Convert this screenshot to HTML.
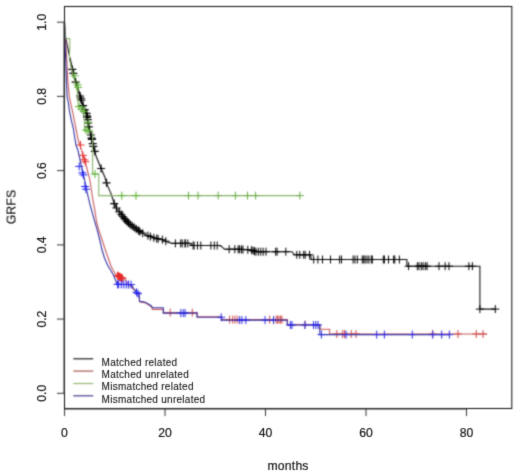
<!DOCTYPE html>
<html><head><meta charset="utf-8"><title>GRFS</title>
<style>html,body{margin:0;padding:0;background:#fff;overflow:hidden;}svg{display:block;}</style>
</head><body>
<svg width="520" height="472" viewBox="0 0 520 472"><defs><filter id="bl" x="0" y="0" width="520" height="472" filterUnits="userSpaceOnUse" color-interpolation-filters="sRGB"><feConvolveMatrix order="5" kernelMatrix="0.00003 0.00101 0.00331 0.00101 0.00003 0.00101 0.03529 0.11525 0.03529 0.00101 0.00331 0.11525 0.37636 0.11525 0.00331 0.00101 0.03529 0.11525 0.03529 0.00101 0.00003 0.00101 0.00331 0.00101 0.00003" edgeMode="duplicate"/></filter><filter id="bt" x="0" y="0" width="520" height="472" filterUnits="userSpaceOnUse" color-interpolation-filters="sRGB"><feConvolveMatrix order="5" kernelMatrix="0.00000 0.00003 0.00021 0.00003 0.00000 0.00003 0.01133 0.08373 0.01133 0.00003 0.00021 0.08373 0.61869 0.08373 0.00021 0.00003 0.01133 0.08373 0.01133 0.00003 0.00000 0.00003 0.00021 0.00003 0.00000" edgeMode="none"/></filter></defs><rect width="520" height="472" fill="#fff"/><g filter="url(#bl)"><rect width="520" height="472" fill="#fff"/><polyline points="64.5,22.2 64.8,30.0 65.6,37.0 67.6,47.0 69.8,58.0 72.1,68.5 74.0,76.0 75.9,83.3 77.6,88.0 79.1,92.8 82.0,102.6 84.2,108.5 86.6,113.5 87.8,120.0 88.7,126.2 91.3,136.7 93.5,147.3 94.5,150.0 96.1,156.3 100.9,168.0 104.6,176.5 107.2,184.9 110.9,193.4 112.1,197.0 114.2,203.6 117.0,209.0 120.5,213.5 124.8,219.2 129.5,224.0 135.3,228.3 140.8,232.2 147.5,235.5 155.2,238.3 162.9,239.8 167.7,242.2 172.0,243.4 190.0,243.4 192.7,245.5 219.5,245.5 221.5,246.4 224.4,249.1 240.0,249.3 251.2,250.0 256.0,251.7 292.1,251.7 294.3,254.8 310.6,254.8 311.5,259.5 406.9,259.5 406.9,266.2 479.9,266.2 479.9,309.1 495.3,309.1" fill="none" stroke="#141414" stroke-width="1.1"/><polyline points="69.8,58.0 72.1,68.5 74.0,76.0 75.9,83.3 77.6,88.0 79.1,92.8 82.0,102.6 84.2,108.5 86.6,113.5 87.8,120.0 88.7,126.2 91.3,136.7 93.5,147.3 94.5,150.0" fill="none" stroke="#141414" stroke-width="1.6" stroke-linejoin="round"/><path d="M138.7 233.1H146.7M142.7 229.1V237.1M144.0 235.7H152.0M148.0 231.7V239.7M146.4 236.6H154.4M150.4 232.6V240.6M149.8 237.8H157.8M153.8 233.8V241.8M152.7 238.6H160.7M156.7 234.6V242.6M154.1 238.9H162.1M158.1 234.9V242.9M158.4 239.7H166.4M162.4 235.7V243.7M161.8 241.2H169.8M165.8 237.2V245.2M171.4 243.4H179.4M175.4 239.4V247.4M176.7 243.4H184.7M180.7 239.4V247.4M178.2 243.4H186.2M182.2 239.4V247.4M181.0 243.4H189.0M185.0 239.4V247.4M181.4 243.4H189.4M185.4 239.4V247.4M183.8 243.4H191.8M187.8 239.4V247.4M189.1 245.5H197.1M193.1 241.5V249.5M190.1 245.5H198.1M194.1 241.5V249.5M193.5 245.5H201.5M197.5 241.5V249.5M196.8 245.5H204.8M200.8 241.5V249.5M206.9 245.5H214.9M210.9 241.5V249.5M210.3 245.5H218.3M214.3 241.5V249.5M213.2 245.5H221.2M217.2 241.5V249.5M225.2 249.2H233.2M229.2 245.2V253.2M230.8 249.2H238.8M234.8 245.2V253.2M234.2 249.3H242.2M238.2 245.3V253.3M235.6 249.3H243.6M239.6 245.3V253.3M237.5 249.4H245.5M241.5 245.4V253.4M239.0 249.5H247.0M243.0 245.5V253.5M243.8 249.8H251.8M247.8 245.8V253.8M247.6 250.1H255.6M251.6 246.1V254.1M249.1 250.7H257.1M253.1 246.7V254.7M250.5 251.2H258.5M254.5 247.2V255.2M252.0 251.7H260.0M256.0 247.7V255.7M254.4 251.7H262.4M258.4 247.7V255.7M256.8 251.7H264.8M260.8 247.7V255.7M259.2 251.7H267.2M263.2 247.7V255.7M262.0 251.7H270.0M266.0 247.7V255.7M271.7 251.7H279.7M275.7 247.7V255.7M273.1 251.7H281.1M277.1 247.7V255.7M281.8 251.7H289.8M285.8 247.7V255.7M292.8 254.8H300.8M296.8 250.8V258.8M295.8 254.8H303.8M299.8 250.8V258.8M299.7 254.8H307.7M303.7 250.8V258.8M301.2 254.8H309.2M305.2 250.8V258.8M305.5 254.8H313.5M309.5 250.8V258.8M309.7 259.5H317.7M313.7 255.5V263.5M313.9 259.5H321.9M317.9 255.5V263.5M318.5 259.5H326.5M322.5 255.5V263.5M326.5 259.5H334.5M330.5 255.5V263.5M335.6 259.5H343.6M339.6 255.5V263.5M337.5 259.5H345.5M341.5 255.5V263.5M349.1 259.5H357.1M353.1 255.5V263.5M351.0 259.5H359.0M355.0 255.5V263.5M353.4 259.5H361.4M357.4 255.5V263.5M358.2 259.5H366.2M362.2 255.5V263.5M359.7 259.5H367.7M363.7 255.5V263.5M361.1 259.5H369.1M365.1 255.5V263.5M363.0 259.5H371.0M367.0 255.5V263.5M364.9 259.5H372.9M368.9 255.5V263.5M367.3 259.5H375.3M371.3 255.5V263.5M368.3 259.5H376.3M372.3 255.5V263.5M379.3 259.5H387.3M383.3 255.5V263.5M380.4 259.5H388.4M384.4 255.5V263.5M384.5 259.5H392.5M388.5 255.5V263.5M389.6 259.5H397.6M393.6 255.5V263.5M390.8 259.5H398.8M394.8 255.5V263.5M395.4 259.5H403.4M399.4 255.5V263.5M404.6 266.2H412.6M408.6 262.2V270.2M413.3 266.2H421.3M417.3 262.2V270.2M415.0 266.2H423.0M419.0 262.2V270.2M417.3 266.2H425.3M421.3 262.2V270.2M419.1 266.2H427.1M423.1 262.2V270.2M421.4 266.2H429.4M425.4 262.2V270.2M423.1 266.2H431.1M427.1 262.2V270.2M435.0 266.2H443.0M439.0 262.2V270.2M441.1 266.2H449.1M445.1 262.2V270.2M445.0 266.2H453.0M449.0 262.2V270.2M464.9 266.2H472.9M468.9 262.2V270.2M468.4 266.2H476.4M472.4 262.2V270.2M491.3 309.1H499.3M495.3 305.1V313.1M475.9 309.1H483.9M479.9 305.1V313.1" stroke="#000000" stroke-width="1.0" fill="none"/><path d="M68.3 69.4H76.3M72.3 65.4V73.4M69.3 73.4H77.3M73.3 69.4V77.4M71.6 82.1H79.6M75.6 78.1V86.1M76.0 96.0H84.0M80.0 92.0V100.0M76.7 98.2H84.7M80.7 94.2V102.2M77.3 100.2H85.3M81.3 96.2V104.2M79.1 105.6H87.1M83.1 101.6V109.6M80.7 109.6H88.7M84.7 105.6V113.6M82.6 113.4H90.6M86.6 109.4V117.4M83.0 115.9H91.0M87.0 111.9V119.9M83.3 117.3H91.3M87.3 113.3V121.3M83.7 119.7H91.7M87.7 115.7V123.7M84.2 123.0H92.2M88.2 119.0V127.0M84.8 126.8H92.8M88.8 122.8V130.8M86.9 135.0H94.9M90.9 131.0V139.0M87.6 138.2H95.6M91.6 134.2V142.2M87.9 139.4H95.9M91.9 135.4V143.4M88.7 143.6H96.7M92.7 139.6V147.6M89.3 146.3H97.3M93.3 142.3V150.3M90.8 151.3H98.8M94.8 147.3V155.3M97.1 168.5H105.1M101.1 164.5V172.5M102.5 182.8H110.5M106.5 178.8V186.8M110.2 203.6H118.2M114.2 199.6V207.6M112.5 208.0H120.5M116.5 204.0V212.0M115.3 212.0H123.3M119.3 208.0V216.0M117.3 214.5H125.3M121.3 210.5V218.5M118.8 216.5H126.8M122.8 212.5V220.5M120.3 218.5H128.3M124.3 214.5V222.5M121.6 220.0H129.6M125.6 216.0V224.0M123.1 221.5H131.1M127.1 217.5V225.5M124.5 223.0H132.5M128.5 219.0V227.0M126.2 224.5H134.2M130.2 220.5V228.5M128.2 226.0H136.2M132.2 222.0V230.0M130.2 227.5H138.2M134.2 223.5V231.5M132.3 229.0H140.3M136.3 225.0V233.0M134.4 230.5H142.4M138.4 226.5V234.5M135.8 231.5H143.8M139.8 227.5V235.5" stroke="#000000" stroke-width="1.2" fill="none"/><polyline points="64.5,22.2 65.6,40.0 66.7,60.0 67.8,80.0 69.2,96.0 70.9,104.0 72.4,110.8 75.4,125.7 78.3,140.5 81.3,149.4 83.3,156.0 85.2,162.0 89.8,179.6 92.9,200.0 94.6,208.8 96.7,222.5 98.8,229.9 102.5,240.8 105.0,249.0 107.5,256.0 111.0,266.0 113.0,270.0 115.0,273.5 118.0,276.0 121.0,277.5 124.8,279.5 128.0,283.5 131.4,286.9 135.7,291.6 139.3,295.0 139.6,301.8 144.5,302.6 147.5,304.1 151.4,306.7 152.5,309.4 163.3,309.4 163.3,312.6 197.1,312.6 197.1,316.8 221.6,316.8 221.6,319.6 287.3,319.6 287.3,324.6 319.8,324.6 319.8,329.3 329.6,329.3 329.6,334.0 487.0,334.0" fill="none" stroke="#c85a5e" stroke-width="1.1"/><path d="M166.2 312.6H174.2M170.2 308.6V316.6M188.3 312.6H196.3M192.3 308.6V316.6M225.6 319.6H233.6M229.6 315.6V323.6M228.7 319.6H236.7M232.7 315.6V323.6M231.0 319.6H239.0M235.0 315.6V323.6M233.3 319.6H241.3M237.3 315.6V323.6M265.6 319.6H273.6M269.6 315.6V323.6M272.0 319.6H280.0M276.0 315.6V323.6M273.5 319.6H281.5M277.5 315.6V323.6M275.0 319.6H283.0M279.0 315.6V323.6M276.5 319.6H284.5M280.5 315.6V323.6M278.0 319.6H286.0M282.0 315.6V323.6M301.0 324.6H309.0M305.0 320.6V328.6M332.8 334.0H340.8M336.8 330.0V338.0M338.6 334.0H346.6M342.6 330.0V338.0M340.5 334.0H348.5M344.5 330.0V338.0M347.3 334.0H355.3M351.3 330.0V338.0M352.0 334.0H360.0M356.0 330.0V338.0M428.7 334.0H436.7M432.7 330.0V338.0M454.0 334.0H462.0M458.0 330.0V338.0M472.3 334.0H480.3M476.3 330.0V338.0M479.0 334.0H487.0M483.0 330.0V338.0" stroke="#d04848" stroke-width="1.0" fill="none"/><path d="M76.5 145.0H84.5M80.5 141.0V149.0M78.8 155.3H86.8M82.8 151.3V159.3M80.3 159.8H88.3M84.3 155.8V163.8M81.4 161.8H89.4M85.4 157.8V165.8M113.5 275.6H121.5M117.5 271.6V279.6M114.5 276.2H122.5M118.5 272.2V280.2M115.5 276.8H123.5M119.5 272.8V280.8M116.5 277.2H124.5M120.5 273.2V281.2M117.5 277.8H125.5M121.5 273.8V281.8M118.5 278.3H126.5M122.5 274.3V282.3" stroke="#e82c2c" stroke-width="1.0" fill="none"/><polyline points="64.5,22.2 65.6,38.5 69.8,38.5 69.8,46.0 69.4,58.0 71.5,68.5 73.4,76.0 75.3,83.3 77.0,90.0 78.2,100.0 78.2,107.0 84.5,107.0 84.5,131.0 92.6,131.0 92.6,174.0 98.8,174.0 98.8,195.6 300.0,195.6" fill="none" stroke="#8cb46c" stroke-width="1.1"/><path d="M184.5 195.6H192.5M188.5 191.6V199.6M194.0 195.6H202.0M198.0 191.6V199.6M214.2 195.6H222.2M218.2 191.6V199.6M231.4 195.6H239.4M235.4 191.6V199.6M243.5 195.6H251.5M247.5 191.6V199.6M251.6 195.6H259.6M255.6 191.6V199.6M295.9 195.6H303.9M299.9 191.6V199.6" stroke="#6cac48" stroke-width="1.0" fill="none"/><path d="M70.6 75.8H78.6M74.6 71.8V79.8M73.6 84.8H81.6M77.6 80.8V88.8M74.1 87.4H82.1M78.1 83.4V91.4M75.0 106.5H83.0M79.0 102.5V110.5M77.5 109.0H85.5M81.5 105.0V113.0M80.0 111.5H88.0M84.0 107.5V115.5M82.0 130.0H90.0M86.0 126.0V134.0M84.1 122.3H92.1M88.1 118.3V126.3M84.0 130.8H92.0M88.0 126.8V134.8M91.0 174.0H99.0M95.0 170.0V178.0M117.8 195.6H125.8M121.8 191.6V199.6M132.0 195.6H140.0M136.0 191.6V199.6" stroke="#58b030" stroke-width="1.0" fill="none"/><polyline points="64.5,22.2 64.9,40.0 65.8,60.0 66.4,80.0 67.0,96.0 68.4,103.0 69.6,111.9 71.5,120.8 73.4,128.5 74.5,136.0 76.0,145.0 78.1,151.0 81.3,165.9 84.5,179.6 87.1,192.3 90.3,205.6 94.1,219.3 97.2,229.9 99.9,240.5 102.0,250.0 104.5,258.0 107.5,265.0 110.5,270.0 112.9,273.9 115.6,280.2 117.2,284.3 131.5,284.6 133.5,288.5 136.8,292.7 139.2,294.6 139.4,301.3 144.5,302.1 147.5,303.6 151.4,306.0 152.5,307.8 163.3,307.8 163.3,313.1 197.1,313.1 197.1,317.3 221.6,317.3 221.6,320.1 287.3,320.1 287.3,325.0 319.8,325.0 319.8,334.6 449.4,334.6" fill="none" stroke="#3432a2" stroke-width="1.1"/><path d="M176.8 313.1H184.8M180.8 309.1V317.1M179.2 313.1H187.2M183.2 309.1V317.1M181.1 313.1H189.1M185.1 309.1V317.1M217.2 317.3H225.2M221.2 313.3V321.3M235.6 320.1H243.6M239.6 316.1V324.1M237.9 320.1H245.9M241.9 316.1V324.1M241.8 320.1H249.8M245.8 316.1V324.1M261.0 320.1H269.0M265.0 316.1V324.1M269.5 320.1H277.5M273.5 316.1V324.1M286.4 325.0H294.4M290.4 321.0V329.0M288.0 325.0H296.0M292.0 321.0V329.0M301.0 325.0H309.0M305.0 321.0V329.0M309.5 325.0H317.5M313.5 321.0V329.0M311.8 325.0H319.8M315.8 321.0V329.0M314.0 325.0H322.0M318.0 321.0V329.0M317.4 334.6H325.4M321.4 330.6V338.6M342.0 334.6H350.0M346.0 330.6V338.6M372.7 334.6H380.7M376.7 330.6V338.6M380.4 334.6H388.4M384.4 330.6V338.6M408.3 334.6H416.3M412.3 330.6V338.6M428.7 334.6H436.7M432.7 330.6V338.6M437.7 334.6H445.7M441.7 330.6V338.6M445.4 334.6H453.4M449.4 330.6V338.6" stroke="#2828e0" stroke-width="1.0" fill="none"/><path d="M75.2 166.4H83.2M79.2 162.4V170.4M78.3 172.8H86.3M82.3 168.8V176.8M79.4 174.9H87.4M83.4 170.9V178.9M81.0 186.5H89.0M85.0 182.5V190.5M82.0 189.2H90.0M86.0 185.2V193.2M113.6 284.3H121.6M117.6 280.3V288.3M114.7 284.3H122.7M118.7 280.3V288.3M117.3 284.4H125.3M121.3 280.4V288.4M119.8 284.4H127.8M123.8 280.4V288.4M122.3 284.5H130.3M126.3 280.5V288.5M124.5 284.5H132.5M128.5 280.5V288.5M127.0 284.6H135.0M131.0 280.6V288.6M132.5 292.3H140.5M136.5 288.3V296.3M134.0 293.6H142.0M138.0 289.6V297.6" stroke="#2020ee" stroke-width="1.0" fill="none"/><rect x="64.5" y="6.5" width="447.3" height="402" fill="none" stroke="#080808" stroke-width="1"/><path d="M64.5 409H466.5M64.5 409V416M165.0 409V416M265.5 409V416M366.0 409V416M466.5 409V416" stroke="#333" stroke-width="1" fill="none"/><path d="M64 22.2V393.3M57 393.3H64M57 319.1H64M57 244.9H64M57 170.6H64M57 96.4H64M57 22.2H64" stroke="#333" stroke-width="1" fill="none"/><path d="M73.3 358.8H93.2" stroke="#262626" stroke-width="1.25"/><path d="M73.3 371.1H93.2" stroke="#a86058" stroke-width="1.25"/><path d="M73.3 383.5H93.2" stroke="#98bc78" stroke-width="1.25"/><path d="M73.3 395.8H93.2" stroke="#4a4490" stroke-width="1.25"/></g><g filter="url(#bt)" fill="#1a1a1a" stroke="#1a1a1a" stroke-width="0.22" font-family="Liberation Sans, Arial, Helvetica, sans-serif"><text x="64.5" y="437.3" font-size="12.2" text-anchor="middle">0</text><text x="165.0" y="437.3" font-size="12.2" text-anchor="middle">20</text><text x="265.5" y="437.3" font-size="12.2" text-anchor="middle">40</text><text x="366.0" y="437.3" font-size="12.2" text-anchor="middle">60</text><text x="466.5" y="437.3" font-size="12.2" text-anchor="middle">80</text><text transform="translate(45.5 393.3) rotate(-90)" font-size="12.2" text-anchor="middle">0.0</text><text transform="translate(45.5 319.1) rotate(-90)" font-size="12.2" text-anchor="middle">0.2</text><text transform="translate(45.5 244.9) rotate(-90)" font-size="12.2" text-anchor="middle">0.4</text><text transform="translate(45.5 170.6) rotate(-90)" font-size="12.2" text-anchor="middle">0.6</text><text transform="translate(45.5 96.4) rotate(-90)" font-size="12.2" text-anchor="middle">0.8</text><text transform="translate(45.5 22.2) rotate(-90)" font-size="12.2" text-anchor="middle">1.0</text><text x="288.1" y="469.6" font-size="12.2" letter-spacing="0.2" text-anchor="middle">months</text><text transform="translate(15.5 206.9) rotate(-90)" font-size="12.2" letter-spacing="0.19" text-anchor="middle">GRFS</text><text x="101.6" y="365.6" font-size="10" stroke-width="0.12" letter-spacing="0.27">Matched related</text><text x="101.6" y="377.9" font-size="10" stroke-width="0.12" letter-spacing="0.27">Matched unrelated</text><text x="101.6" y="390.3" font-size="10" stroke-width="0.12" letter-spacing="0.27">Mismatched related</text><text x="101.6" y="402.6" font-size="10" stroke-width="0.12" letter-spacing="0.27">Mismatched unrelated</text></g></svg>
</body></html>
